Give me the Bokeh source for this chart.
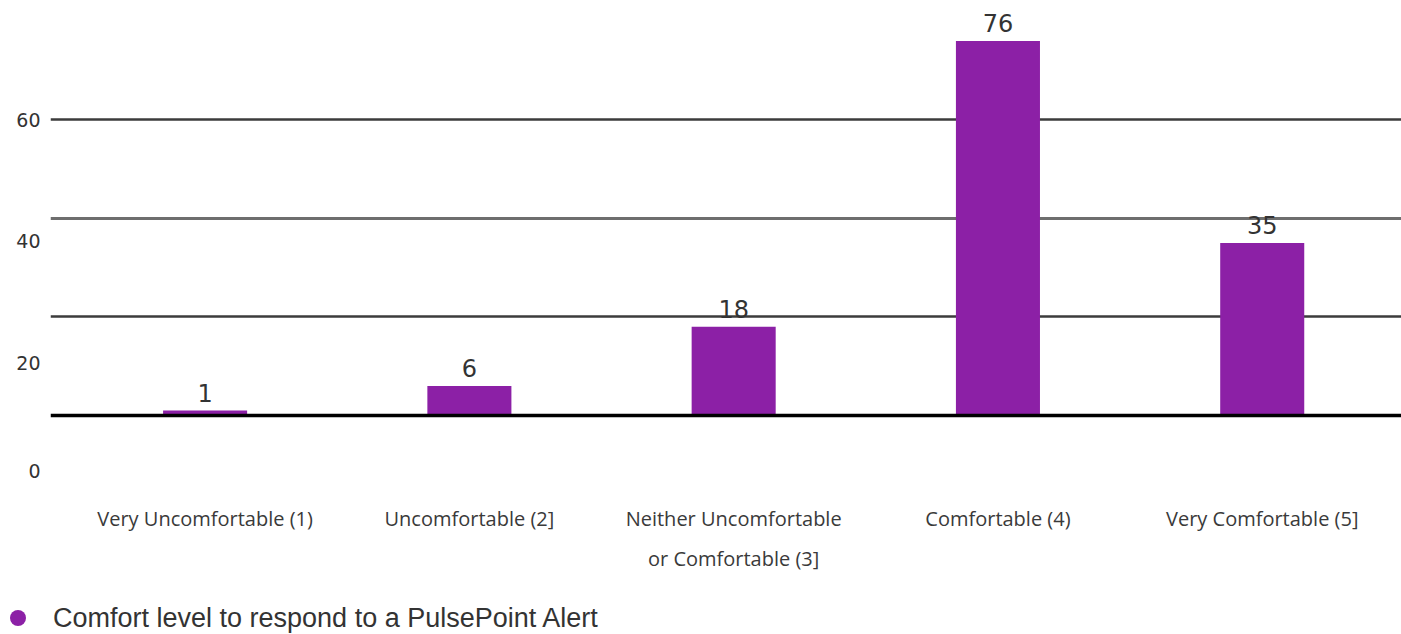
from bokeh.plotting import figure
from bokeh.layouts import column
from bokeh.models import (ColumnDataSource, Range1d, FixedTicker, Span, Grid, Div)
from bokeh.core.properties import value
from bokeh.embed import file_html
from bokeh.resources import INLINE

# ---- data ----
categories = ["Very Uncomfortable (1)", "Uncomfortable (2]",
              "Neither Uncomfortable\nor Comfortable (3]",
              "Comfortable (4)", "Very Comfortable (5]"]
counts = [1, 6, 18, 76, 35]
series_name = "Comfort level to respond to a PulsePoint Alert"
y_tick_labels = ["60", "40", "20", "0"]
grid_dark = [20, 60]
grid_light = [40]

# layout of the (offset) y tick labels as they appear in the source
y_label_pos = [60, 35.5, 10.75, -11.2]

BAR = "#8C20A6"
xs = list(range(len(categories)))
src = ColumnDataSource(dict(x=xs, top=counts, lab=[str(c) for c in counts]))

p = figure(frame_width=1351, frame_height=485, output_backend="svg", toolbar_location=None,
           x_range=Range1d(-0.585, 4.527), y_range=Range1d(-14.2, 84.2),
           min_border_left=50, min_border_right=0, min_border_top=0,
           min_border_bottom=100)
p.outline_line_color = None
p.background_fill_color = "white"

# grid
p.xgrid.visible = False
p.ygrid.ticker = FixedTicker(ticks=grid_dark)
p.ygrid.grid_line_color = "#3c3c3c"
p.ygrid.grid_line_width = 2.5
g2 = Grid(dimension=1, ticker=FixedTicker(ticks=grid_light),
          grid_line_color="#6e6e6e", grid_line_width=3)
p.add_layout(g2)
p.add_layout(Span(location=0, dimension="width", line_color="black", line_width=3.5))

# bars
p.vbar(x="x", top="top", bottom=0, width=0.318, source=src, fill_color=BAR,
       line_color=None)
p.text(x="x", y="top", text="lab", source=src, text_align="center",
       text_baseline="bottom", y_offset=-9, text_font=value("DejaVu Sans"),
       text_font_size="24px", text_color="#333333")

# y axis
ya = p.yaxis[0]
ya.ticker = FixedTicker(ticks=y_label_pos)
ya.major_label_overrides = {v: t for v, t in zip(y_label_pos, y_tick_labels)}
ya.axis_line_color = None
ya.major_tick_line_color = None
ya.minor_tick_line_color = None
ya.major_tick_out = 0
ya.major_tick_in = 0
ya.major_label_standoff = 10
ya.major_label_text_font = "DejaVu Sans"
ya.major_label_text_font_size = "19px"
ya.major_label_text_color = "#333333"

# x axis
xa = p.xaxis[0]
xa.ticker = FixedTicker(ticks=xs)
xa.major_label_overrides = {i: c for i, c in zip(xs, categories)}
xa.axis_line_color = None
xa.major_tick_line_color = None
xa.minor_tick_line_color = None
xa.major_tick_out = 0
xa.major_tick_in = 0
xa.major_label_standoff = 19
xa.major_label_text_font = "Open Sans"
xa.major_label_text_font_size = "20px"
xa.major_label_text_color = "#3a3a3a"
xa.major_label_text_line_height = 1.5

# legend strip below the chart
legend_html = (
    '<div style="position:relative;width:1401px;height:49px;margin:0;padding:0;">'
    f'<span style="position:absolute;left:10px;top:25px;width:16px;height:16px;'
    f'border-radius:50%;background:{BAR};"></span>'
    '<span style="position:absolute;left:53px;top:18px;line-height:30px;'
    "font-family:'Liberation Sans';font-size:27px;color:#333333;white-space:nowrap;\">"
    f'{series_name}</span></div>'
)
legend_div = Div(text=legend_html, width=1401, height=49,
                 styles={"margin": "0", "padding": "0"})

layout = column(p, legend_div, spacing=0)
open("out.html", "w").write(file_html(layout, INLINE))
